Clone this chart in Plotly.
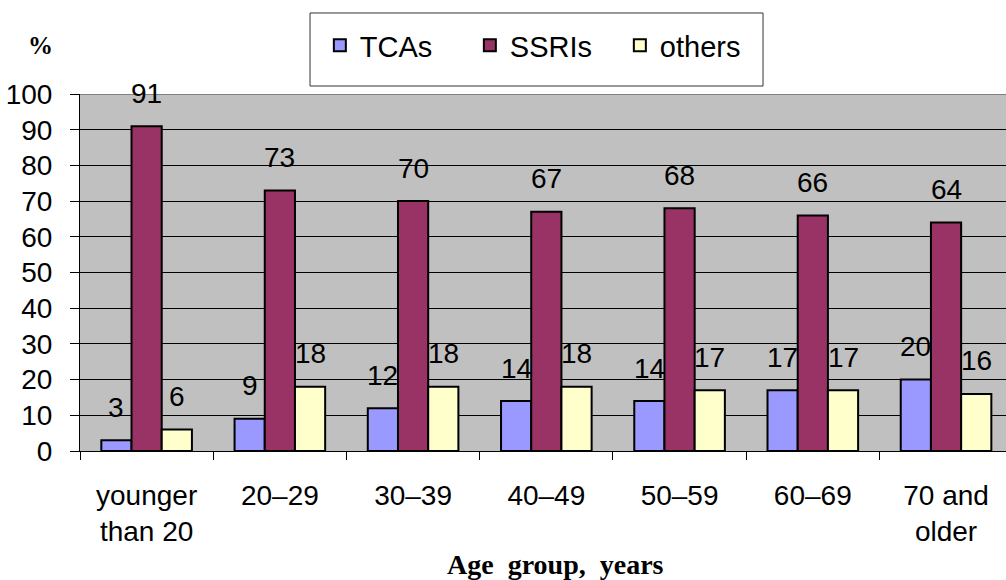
import plotly.graph_objects as go

categories = ["younger<br>than 20", "20–29", "30–39", "40–49", "50–59", "60–69", "70 and<br>older"]
tcas = [3, 9, 12, 14, 14, 17, 20]
ssris = [91, 73, 70, 67, 68, 66, 64]
others = [6, 18, 18, 18, 17, 17, 16]
series = [("TCAs", tcas, "#9999FF"), ("SSRIs", ssris, "#993366"), ("others", others, "#FFFFCC")]
y_ticks = list(range(0, 101, 10))

BARGAP = 0.32
bw = (1 - BARGAP) / 3
FONT = "Liberation Sans, Arial"
FS = 28

fig = go.Figure()
for name, vals, col in series:
    fig.add_trace(go.Bar(x=categories, y=vals, name=name,
                         marker=dict(color=col, line=dict(color="black", width=2))))

annotations = []
for j, (name, vals, col) in enumerate(series):
    for i, v in enumerate(vals):
        annotations.append(dict(x=i + (j - 1) * bw, y=v, xref="x", yref="y", text=str(v),
                                showarrow=False, yanchor="middle", yshift=33,
                                font=dict(family=FONT, size=FS, color="black")))

annotations.append(dict(text="<b>Age&nbsp; group,&nbsp; years</b>", xref="paper", yref="paper",
                        x=0.513, y=-0.317,
                        showarrow=False, xanchor="center", yanchor="middle",
                        font=dict(family="Liberation Serif, Times New Roman", size=28, color="black")))
annotations.append(dict(text="<b>%</b>", xref="paper", yref="paper", x=-0.043, y=1.135,
                        showarrow=False, xanchor="center", yanchor="middle",
                        font=dict(family="Liberation Serif, Times New Roman", size=25, color="black")))

fig.update_layout(
    width=1006, height=580,
    margin=dict(l=80, r=0, t=94, b=129, autoexpand=False),
    paper_bgcolor="white", plot_bgcolor="#C0C0C0",
    barmode="group", bargap=BARGAP, bargroupgap=0,
    font=dict(family=FONT, size=FS, color="black"),
    showlegend=True,
    legend=dict(orientation="h", x=0.502, y=1.136, xanchor="center", yanchor="middle",
                bgcolor="rgba(0,0,0,0)", borderwidth=0,
                entrywidth=105, entrywidthmode="pixels",
                font=dict(family=FONT, size=29), traceorder="normal"),
    annotations=annotations,
    shapes=[
        dict(type="line", xref="paper", yref="y", x0=0, x1=1, y0=100, y1=100,
             line=dict(color="#808080", width=2), layer="above"),
        dict(type="rect", xref="paper", yref="paper", x0=0.2484, x1=0.7376, y0=1.0224, y1=1.2269,
             line=dict(color="#333333", width=1), fillcolor="white", layer="below"),
    ],
)
fig.update_xaxes(range=[-0.5, 6.45], showline=True, linecolor="black", linewidth=1,
                 ticks="outside", tickson="boundaries", ticklen=8, tickcolor="black",
                 showgrid=False, tickfont=dict(size=FS), ticklabelstandoff=19)
fig.update_yaxes(range=[0, 100], tickvals=y_ticks, showline=True, linecolor="black", linewidth=1,
                 ticks="outside", ticklen=9, tickcolor="black", gridcolor="black", gridwidth=1,
                 zeroline=False, tickfont=dict(size=FS), ticklabelstandoff=12)

fig.write_html("out.html", config={"displayModeBar": False},
               post_script="document.body.style.margin='0';")
